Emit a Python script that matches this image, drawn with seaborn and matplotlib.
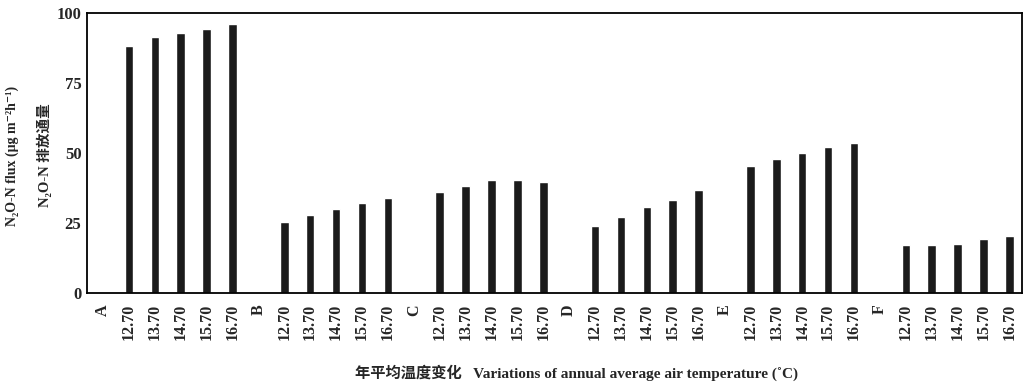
import matplotlib
matplotlib.use("Agg")
import matplotlib.pyplot as plt
import seaborn as sns
import pandas as pd

# Treatments and temperature steps
groups = ["A", "B", "C", "D", "E", "F"]
temps = ["12.70", "13.70", "14.70", "15.70", "16.70"]

# N2O-N flux (μg m-2 h-1) for each treatment at each temperature
flux_A = [88.3, 91.6, 93.0, 94.3, 96.0]
flux_B = [25.5, 27.9, 29.9, 32.0, 34.0]
flux_C = [36.2, 38.2, 40.2, 40.2, 39.7]
flux_D = [24.0, 27.3, 30.7, 33.3, 36.9]
flux_E = [45.3, 48.0, 50.0, 52.1, 53.4]
flux_F = [17.0, 17.2, 17.6, 19.4, 20.4]

y_ticks = [0, 25, 50, 75, 100]

series = [flux_A, flux_B, flux_C, flux_D, flux_E, flux_F]

# Each treatment gets a header slot (no bar) followed by its five temperatures
keys, labels, values = [], [], []
for g, vals in zip(groups, series):
    keys.append(g)
    labels.append(g)
    values.append(0.0)
    for t, v in zip(temps, vals):
        keys.append(f"{g}-{t}")
        labels.append(t)
        values.append(v)

df = pd.DataFrame({"slot": keys, "flux": values})

sns.set_theme(style="white")
serif = ["Liberation Serif", "Noto Sans CJK SC", "DejaVu Sans"]
plt.rcParams["font.family"] = serif

fig = plt.figure(figsize=(10.29, 3.89), dpi=100)
ax = fig.add_axes([0.0845, 0.2468, 0.9085, 0.7198])

sns.barplot(data=df, x="slot", y="flux", order=keys, color="#1b1b1b",
            width=0.33, saturation=1, ax=ax, errorbar=None)

ax.set_ylim(0, 100)
ax.set_xlim(-0.62, 35.48)
ax.set_yticks(y_ticks)
ax.set_yticklabels([str(v) for v in y_ticks], fontsize=12, fontweight="bold",
                   family=serif)
ax.set_xticks(range(len(keys)))
ax.set_xticklabels(labels, rotation=90, fontsize=11.5, fontweight="bold",
                   family=serif)
ax.tick_params(axis="x", length=0, pad=8)
ax.tick_params(axis="y", length=0, pad=4)

for s in ax.spines.values():
    s.set_visible(True)
    s.set_color("black")
    s.set_linewidth(1.3)

ax.set_ylabel("")
ax.set_xlabel("年平均温度变化   Variations of annual average air temperature (˚C)",
              fontsize=11, fontweight="bold", family=serif)
ax.xaxis.set_label_coords(0.524, -0.255)

fig.text(0.012, 0.60, "N₂O-N flux (μg m⁻²h⁻¹)", rotation=90,
         ha="center", va="center", fontsize=10, fontweight="bold", family=serif)
fig.text(0.043, 0.60, "N₂O-N 排放通量", rotation=90,
         ha="center", va="center", fontsize=10.5, fontweight="bold", family=serif)

fig.savefig("out.png", dpi=100)
